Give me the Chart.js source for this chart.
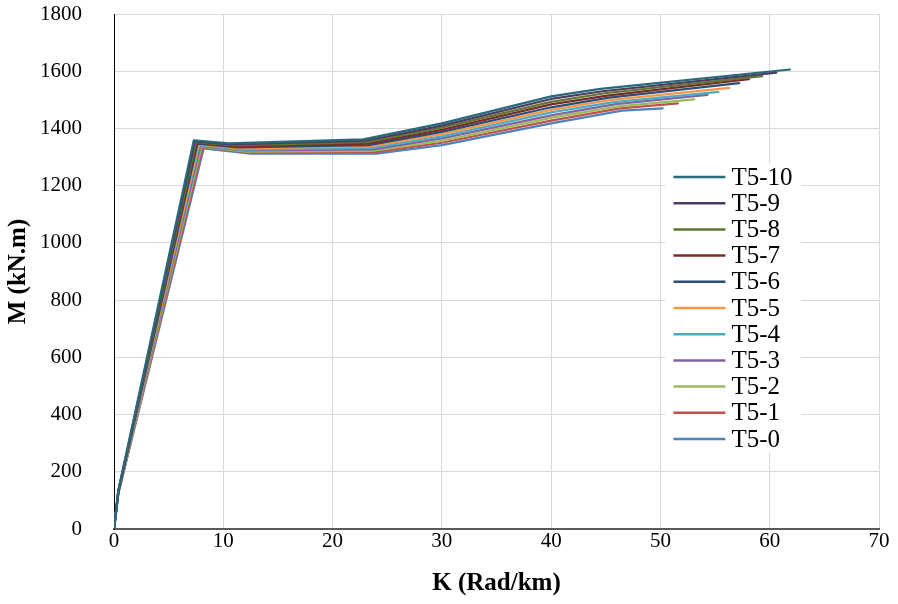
<!DOCTYPE html>
<html>
<head>
<meta charset="utf-8">
<script src="https://cdn.jsdelivr.net/npm/chart.js@4/dist/chart.umd.min.js"></script>
<style>
  html, body { margin: 0; padding: 0; background: #ffffff; }
  #wrap { width: 898px; height: 604px; position: relative; }
</style>
</head>
<body>
<div id="wrap"><canvas id="c"></canvas></div>
<script>
// ---- Data (K in Rad/km, M in kN.m) ----
const seriesNames = ["T5-0","T5-1","T5-2","T5-3","T5-4","T5-5","T5-6","T5-7","T5-8","T5-9","T5-10"];
const seriesColors = ["#4F81BD","#C0504D","#9BBB59","#8064A2","#4BACC6","#F79646","#2C4D75","#772C2A","#5F7530","#4D3B62","#276A7C"];

const K_T5_0  = [0, 0.4, 8.2,  12.5, 24.0, 30, 40, 46.5, 50.2];
const M_T5_0  = [0, 125, 1330, 1312, 1312, 1342, 1418, 1462, 1470];
const K_T5_1  = [0, 0.4, 8.1,  12.3, 23.9, 30, 40, 46.3, 51.6];
const M_T5_1  = [0, 126, 1333, 1316, 1317, 1350, 1427, 1470, 1488];
const K_T5_2  = [0, 0.4, 8.0,  12.1, 23.8, 30, 40, 46.1, 53.1];
const M_T5_2  = [0, 127, 1336, 1319, 1322, 1357, 1437, 1477, 1502];
const K_T5_3  = [0, 0.4, 7.9,  11.9, 23.7, 30, 40, 45.9, 54.3];
const M_T5_3  = [0, 128, 1339, 1323, 1327, 1365, 1446, 1485, 1517];
const K_T5_4  = [0, 0.4, 7.8,  11.7, 23.6, 30, 40, 45.7, 55.3];
const M_T5_4  = [0, 129, 1342, 1326, 1332, 1372, 1456, 1492, 1528];
const K_T5_5  = [0, 0.4, 7.75, 11.5, 23.4, 30, 40, 45.5, 56.3];
const M_T5_5  = [0, 130, 1344, 1330, 1337, 1380, 1465, 1500, 1542];
const K_T5_6  = [0, 0.4, 7.65, 11.3, 23.3, 30, 40, 45.3, 57.2];
const M_T5_6  = [0, 131, 1347, 1334, 1342, 1388, 1474, 1508, 1558];
const K_T5_7  = [0, 0.4, 7.55, 11.1, 23.2, 30, 40, 45.1, 58.1];
const M_T5_7  = [0, 132, 1350, 1337, 1347, 1395, 1484, 1515, 1572];
const K_T5_8  = [0, 0.4, 7.5,  10.9, 23.1, 30, 40, 44.9, 59.3];
const M_T5_8  = [0, 133, 1352, 1341, 1352, 1403, 1493, 1523, 1583];
const K_T5_9  = [0, 0.4, 7.4,  10.7, 23.0, 30, 40, 44.7, 60.6];
const M_T5_9  = [0, 134, 1355, 1344, 1357, 1410, 1503, 1530, 1595];
const K_T5_10 = [0, 0.4, 7.3,  10.5, 22.8, 30, 40, 44.5, 61.85];
const M_T5_10 = [0, 135, 1358, 1348, 1362, 1418, 1512, 1538, 1606];

const kSeries = [K_T5_0,K_T5_1,K_T5_2,K_T5_3,K_T5_4,K_T5_5,K_T5_6,K_T5_7,K_T5_8,K_T5_9,K_T5_10];
const mSeries = [M_T5_0,M_T5_1,M_T5_2,M_T5_3,M_T5_4,M_T5_5,M_T5_6,M_T5_7,M_T5_8,M_T5_9,M_T5_10];

const xTitle = "K (Rad/km)";
const yTitle = "M (kN.m)";
const xMin = 0, xMax = 70, xStep = 10;
const yMin = 0, yMax = 1800, yStep = 200;

const FONT = '"Liberation Serif", "Times New Roman", serif';

const datasets = seriesNames.map((name, i) => ({
  label: name,
  data: kSeries[i].map((k, j) => ({ x: k, y: mSeries[i][j] })),
  borderColor: seriesColors[i],
  backgroundColor: seriesColors[i],
  borderWidth: 2.25,
  borderJoinStyle: 'round',
  borderCapStyle: 'round',
  pointRadius: 0,
  showLine: true,
  fill: false,
  tension: 0,
  order: seriesNames.length - i
}));

const boxLegend = {
  id: 'boxLegend',
  afterDatasetsDraw(chart) {
    const ctx = chart.ctx;
    const ds = chart.data.datasets;
    const x0 = chart.scales.x.getPixelForValue(50) + 5;
    ctx.save();
    ctx.fillStyle = '#ffffff';
    ctx.fillRect(x0, 164, 136, 288);
    ctx.font = '25px ' + FONT;
    ctx.textBaseline = 'middle';
    ctx.textAlign = 'left';
    for (let i = ds.length - 1; i >= 0; i--) {
      const row = ds.length - 1 - i;
      const y = 177 + row * 26.2;
      ctx.strokeStyle = ds[i].borderColor;
      ctx.lineWidth = 2.5;
      ctx.beginPath();
      ctx.moveTo(x0 + 8, y);
      ctx.lineTo(x0 + 60, y);
      ctx.stroke();
      ctx.fillStyle = '#000000';
      ctx.fillText(ds[i].label, x0 + 66, y + 1);
    }
    ctx.restore();
  }
};

new Chart(document.getElementById('c'), {
  type: 'scatter',
  data: { datasets },
  plugins: [boxLegend],
  options: {
    responsive: true,
    maintainAspectRatio: false,
    animation: false,
    devicePixelRatio: 1,
    layout: { padding: { left: 4, top: 14, right: 19, bottom: 2 } },
    plugins: { legend: { display: false }, tooltip: { enabled: false } },
    scales: {
      x: {
        type: 'linear',
        min: xMin, max: xMax,
        ticks: { stepSize: xStep, color: '#000', font: { family: FONT, size: 21 }, padding: 0, maxRotation: 0,
                 callback: (v) => String(v) },
        grid: { color: '#d9d9d9', lineWidth: 1, drawTicks: false },
        border: { color: '#595959', width: 2 },
        title: { display: true, text: xTitle, color: '#000', font: { family: FONT, size: 25, weight: 'bold' }, padding: { top: 0, bottom: 3 } },
        afterFit(s) { s.height = 73; }
      },
      y: {
        type: 'linear',
        min: yMin, max: yMax,
        ticks: { stepSize: yStep, color: '#000', font: { family: FONT, size: 21 }, padding: 32,
                 callback: (v) => String(v) },
        grid: { color: '#d9d9d9', lineWidth: 1, drawTicks: false },
        border: { color: '#000', width: 1 },
        title: { display: true, text: yTitle, color: '#000', font: { family: FONT, size: 25, weight: 'bold' }, padding: { top: 0, bottom: 0 } },
        afterFit(s) { s.width = 110; s.paddingTop = 12; s.paddingBottom = 12; }
      }
    }
  }
});
</script>
</body>
</html>
